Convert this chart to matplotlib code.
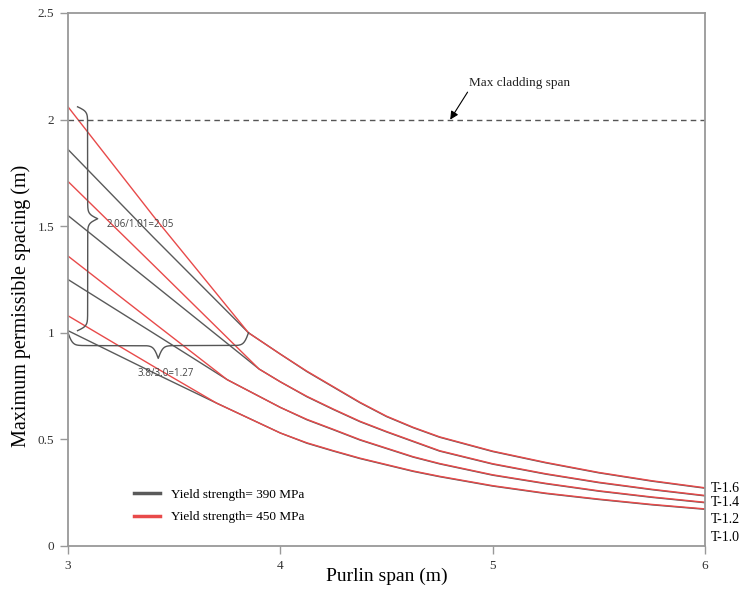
import numpy as np
import matplotlib
matplotlib.use("Agg")
import matplotlib.pyplot as plt

plt.rcParams["font.family"] = ["Liberation Serif", "DejaVu Serif"]

# Purlin span (m) and max permissible spacing (m)
span_T16 = [3.0, 3.4, 3.85, 4.0, 4.125, 4.25, 4.375, 4.5, 4.625, 4.75, 5.0, 5.25, 5.5, 5.75, 6.0]
T16_390 = [1.86, 1.45, 1.00, 0.90, 0.818, 0.745, 0.672, 0.607, 0.555, 0.510, 0.443, 0.390, 0.343, 0.304, 0.271]
T16_450 = [2.06, 1.55, 1.00, 0.90, 0.820, 0.747, 0.674, 0.609, 0.557, 0.512, 0.445, 0.392, 0.345, 0.306, 0.273]

span_T14 = [3.0, 3.4, 3.9, 4.0, 4.125, 4.25, 4.375, 4.5, 4.625, 4.75, 5.0, 5.25, 5.5, 5.75, 6.0]
T14_390 = [1.55, 1.23, 0.83, 0.77, 0.700, 0.640, 0.583, 0.535, 0.490, 0.445, 0.384, 0.337, 0.297, 0.264, 0.235]
T14_450 = [1.71, 1.32, 0.83, 0.77, 0.702, 0.642, 0.585, 0.537, 0.492, 0.447, 0.386, 0.339, 0.299, 0.266, 0.237]

span_T12 = [3.0, 3.4, 3.75, 4.0, 4.125, 4.25, 4.375, 4.5, 4.625, 4.75, 5.0, 5.25, 5.5, 5.75, 6.0]
T12_390 = [1.25, 1.00, 0.78, 0.65, 0.592, 0.545, 0.497, 0.457, 0.417, 0.385, 0.332, 0.292, 0.257, 0.228, 0.203]
T12_450 = [1.36, 1.05, 0.78, 0.65, 0.594, 0.547, 0.499, 0.459, 0.419, 0.387, 0.334, 0.294, 0.259, 0.230, 0.205]

span_T10 = [3.0, 3.4, 3.7, 4.0, 4.125, 4.25, 4.375, 4.5, 4.625, 4.75, 5.0, 5.25, 5.5, 5.75, 6.0]
T10_390 = [1.01, 0.814, 0.67, 0.53, 0.482, 0.445, 0.410, 0.380, 0.350, 0.325, 0.281, 0.246, 0.218, 0.193, 0.172]
T10_450 = [1.08, 0.844, 0.67, 0.53, 0.484, 0.447, 0.412, 0.382, 0.352, 0.327, 0.283, 0.248, 0.220, 0.195, 0.174]

thickness_labels = ["T-1.6", "T-1.4", "T-1.2", "T-1.0"]
label_y = [0.272, 0.202, 0.122, 0.042]

max_cladding = 2.0

black = "#5a5a5a"
red = "#e84a4a"


def curly_brace(ax, start, end, base, depth, vertical, beta=90):
    t = np.linspace(0, 1, 301)
    L = end - start
    u = t[:151] * L
    half = 1 / (1 + np.exp(-beta * (u - u[0]))) + 1 / (1 + np.exp(-beta * (u - u[-1])))
    prof = np.concatenate([half, half[-2::-1]])
    along = start + t * L
    off = base + depth * (prof - 0.5)
    if vertical:
        ax.plot(off, along, color="#555555", lw=1.0, clip_on=False)
    else:
        ax.plot(along, off, color="#555555", lw=1.0, clip_on=False)


fig = plt.figure(figsize=(7.53, 5.96), dpi=100)
ax = fig.add_axes([0.0903, 0.0839, 0.8460, 0.8943])

ax.plot(span_T16, T16_390, color=black, lw=1.0, label="Yield strength= 390 MPa")
ax.plot(span_T14, T14_390, color=black, lw=1.0)
ax.plot(span_T12, T12_390, color=black, lw=1.0)
ax.plot(span_T10, T10_390, color=black, lw=1.0)
ax.plot(span_T16, T16_450, color=red, lw=1.0, label="Yield strength= 450 MPa")
ax.plot(span_T14, T14_450, color=red, lw=1.0)
ax.plot(span_T12, T12_450, color=red, lw=1.0)
ax.plot(span_T10, T10_450, color=red, lw=1.0)

ax.axhline(max_cladding, color="#555555", lw=1.0, ls=(0, (4, 3)))
ax.annotate("Max cladding span", xy=(4.80, max_cladding), xytext=(4.89, 2.17),
            fontsize=9.5, ha="left", va="center", color="#222222",
            arrowprops=dict(arrowstyle="-|>", color="black", lw=0.8,
                            mutation_scale=12, relpos=(0, 0), shrinkA=0, shrinkB=0))

# braces and ratio notes
curly_brace(ax, T10_390[0], T16_450[0], 3.045, 0.095, vertical=True)
ax.text(3.18, 1.51, "2.06/1.01=2.05", fontsize=7, family="Open Sans",
        color="#444444", ha="left", va="center")
curly_brace(ax, 3.0, 3.85, 1.0, -0.12, vertical=False)
ax.text(3.46, 0.81, "3.8/3.0=1.27", fontsize=7, family="Open Sans",
        color="#444444", ha="center", va="center")

for lab, yy in zip(thickness_labels, label_y):
    ax.text(6.028, yy, lab, fontsize=10, ha="left", va="center", clip_on=False)

ax.set_xlim(3, 6)
ax.set_ylim(0, 2.5)
ax.set_xticks([3, 4, 5, 6])
ax.set_yticks([0, 0.5, 1, 1.5, 2, 2.5])
ax.set_yticklabels(["0", "0.5", "1", "1.5", "2", "2.5"])
ax.tick_params(direction="out", length=6, width=1, color="#999999",
               labelsize=9.5, labelcolor="#333333", pad=4)
for s in ax.spines.values():
    s.set_color("#999999")
    s.set_linewidth(1.3)

ax.set_xlabel("Purlin span (m)", fontsize=14)
ax.set_ylabel("Maximum permissible spacing (m)", fontsize=14.5)
ax.xaxis.set_label_coords(0.5, -0.041)
ax.yaxis.set_label_coords(-0.058, 0.45)

leg = ax.legend(loc="lower left", bbox_to_anchor=(0.085, 0.02), frameon=False,
                fontsize=9.5, handlelength=2.0, labelspacing=0.8)
for l in leg.get_lines():
    l.set_linewidth(2.5)

fig.savefig("out.png", dpi=100)
